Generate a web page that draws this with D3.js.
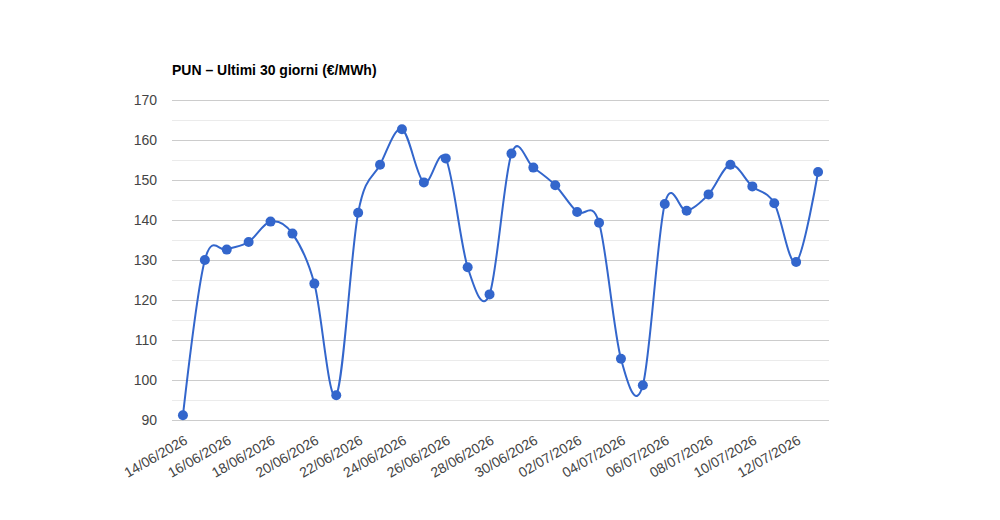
<!DOCTYPE html>
<html>
<head>
<meta charset="utf-8">
<script src="https://cdn.jsdelivr.net/npm/d3@7"></script>
<style>
  body { margin: 0; background: #fff; }
  text { font-family: "Liberation Sans", Arial, sans-serif; }
</style>
</head>
<body>
<div id="chart_div"></div>
<script>
const dates = [
  "14/06/2026", "15/06/2026", "16/06/2026", "17/06/2026", "18/06/2026", "19/06/2026",
  "20/06/2026", "21/06/2026", "22/06/2026", "23/06/2026", "24/06/2026", "25/06/2026",
  "26/06/2026", "27/06/2026", "28/06/2026", "29/06/2026", "30/06/2026", "01/07/2026",
  "02/07/2026", "03/07/2026", "04/07/2026", "05/07/2026", "06/07/2026", "07/07/2026",
  "08/07/2026", "09/07/2026", "10/07/2026", "11/07/2026", "12/07/2026", "13/07/2026"
];
const pun = [
  91.2, 130.0, 132.6, 134.5, 139.6, 136.6, 124.1, 96.2, 141.8, 153.8,
  162.7, 149.4, 155.4, 128.2, 121.4, 156.6, 153.1, 148.7, 142.0, 139.3,
  105.3, 98.7, 144.0, 142.3, 146.4, 153.8, 148.4, 144.2, 129.5, 152.0
];
const yTicks = [90, 100, 110, 120, 130, 140, 150, 160, 170];
const yMinor = [95, 105, 115, 125, 135, 145, 155, 165];

const width = 1000;
const height = 520;
const plotLeft = 172, plotRight = 829, plotTop = 100, plotBottom = 420;

const svg = d3.select("#chart_div")
    .append("svg")
    .attr("width", width)
    .attr("height", height);

const x = d3.scalePoint()
    .domain(dates)
    .range([plotLeft, plotRight])
    .padding(0.5);

const y = d3.scaleLinear()
    .domain([90, 170])
    .range([plotBottom, plotTop]);

// minor gridlines
svg.append("g")
    .selectAll("line")
    .data(yMinor)
    .enter()
    .append("line")
    .attr("x1", plotLeft).attr("x2", plotRight)
    .attr("y1", d => y(d) + 0.5).attr("y2", d => y(d) + 0.5)
    .attr("stroke", "#ebebeb");

// y axis (major gridlines + labels)
svg.append("g")
    .attr("transform", `translate(${plotLeft},0)`)
    .call(d3.axisLeft(y).tickValues(yTicks).tickSize(-(plotRight - plotLeft)).tickPadding(15))
    .call(g => g.select(".domain").remove())
    .call(g => g.selectAll(".tick line").attr("stroke", "#cccccc"))
    .call(g => g.selectAll(".tick text")
        .attr("fill", "#444")
        .style("font-size", "14px")
        .style("font-family", "'Liberation Sans', Arial, sans-serif"));

// x axis labels, every second day
svg.append("g")
    .attr("transform", `translate(0,${plotBottom})`)
    .call(d3.axisBottom(x).tickValues(dates.filter((d, i) => i % 2 === 0)).tickSize(0).tickPadding(0))
    .call(g => g.select(".domain").remove())
    .call(g => g.selectAll(".tick text")
        .attr("fill", "#444")
        .attr("text-anchor", "end")
        .attr("dy", null)
        .attr("y", 0)
        .attr("transform", "translate(5,23) rotate(-30)")
        .style("font-size", "14px")
        .style("font-family", "'Liberation Sans', Arial, sans-serif"));

// line
const line = d3.line()
    .x((d, i) => x(dates[i]))
    .y(d => y(d))
    .curve(d3.curveCardinal.tension(0));

svg.append("path")
    .datum(pun)
    .attr("fill", "none")
    .attr("stroke", "#3366cc")
    .attr("stroke-width", 2)
    .attr("d", line);

svg.append("g")
    .selectAll("circle")
    .data(pun)
    .enter()
    .append("circle")
    .attr("cx", (d, i) => x(dates[i]))
    .attr("cy", d => y(d))
    .attr("r", 5)
    .attr("fill", "#3366cc");

svg.append("text")
    .attr("x", plotLeft)
    .attr("y", 75)
    .attr("fill", "#000")
    .style("font-size", "14px")
    .style("font-weight", "bold")
    .text("PUN – Ultimi 30 giorni (€/MWh)");
</script>
</body>
</html>
